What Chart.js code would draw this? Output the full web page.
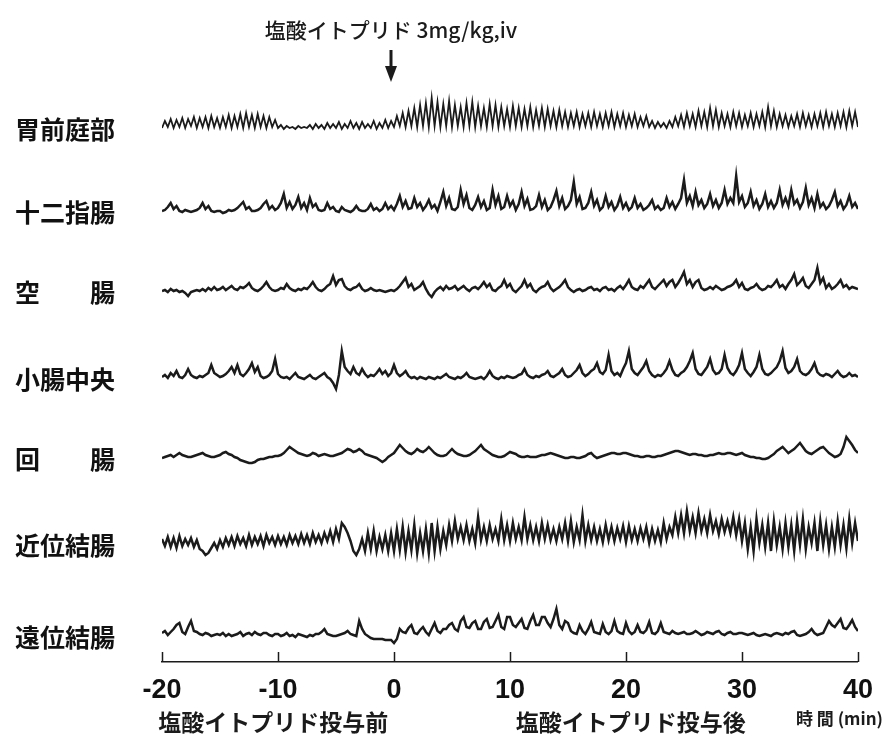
<!DOCTYPE html>
<html lang="ja">
<head>
<meta charset="utf-8">
<title>塩酸イトプリド投与前後の消化管運動</title>
<script src="https://cdn.jsdelivr.net/npm/chart.js@4.4.1/dist/chart.umd.min.js"></script>
<style>
  html, body { margin: 0; padding: 0; background: #fff; }
  #wrap { position: relative; width: 885px; height: 740px; }
</style>
</head>
<body>
<div id="wrap"><canvas id="motility" width="885" height="740"></canvas></div>
<script>
// recording sites, top to bottom
const sites = ['胃前庭部', '十二指腸', '空　　腸', '小腸中央', '回　　腸', '近位結腸', '遠位結腸'];
// resting level of each trace on the y scale
const laneBase = [533, 450, 370, 283, 203, 117, 25];
const timeTicks = [-20, -10, 0, 10, 20, 30, 40];
// one sample every 0.25 min from -20 min (20 samples per row below)
const sampleStart = -20;
const sampleStep = 0.25;

const antrum = [
  1, 8, 2, 10, 1, 9, 2, 11, 1, 10, 3, 12, 1, 11, 2, 12, 1, 13, 2, 11,
  1, 12, 2, 14, 1, 13, 2, 15, 1, 16, 2, 14, 1, 15, 2, 13, 1, 12, 2, 9,
  1, 4, 0, 3, 1, 2, 0, 3, 1, 2, 1, 4, 0, 5, 1, 4, 0, 6, 1, 5,
  1, 7, 0, 5, 1, 8, 1, 6, 0, 7, 1, 5, 1, 8, 0, 6, 1, 9, 1, 8,
  2, 13, 3, 16, 2, 18, 3, 21, 2, 24, 3, 26, 2, 31, 3, 27, 2, 25, 3, 28,
  2, 24, 3, 22, 2, 26, 3, 27, 2, 23, 3, 21, 2, 25, 3, 24, 2, 22, 3, 20,
  2, 23, 3, 21, 2, 20, 3, 22, 2, 19, 3, 21, 2, 20, 3, 18, 2, 19, 3, 17,
  2, 16, 3, 17, 2, 15, 3, 16, 2, 17, 3, 15, 2, 16, 3, 17, 2, 15, 3, 16,
  2, 14, 3, 15, 2, 12, 3, 13, 2, 8, 1, 7, 2, 6, 1, 8, 2, 12, 3, 14,
  2, 16, 3, 15, 2, 18, 3, 17, 2, 21, 3, 19, 2, 16, 3, 15, 2, 17, 3, 16,
  2, 14, 3, 16, 2, 15, 3, 17, 2, 22, 3, 18, 2, 15, 3, 14, 2, 13, 3, 15,
  2, 16, 3, 14, 2, 15, 3, 16, 2, 17, 3, 15, 2, 16, 3, 17, 2, 18, 3, 17, 2
];
const duodenum = [
  1, 2, 5, 9, 3, 6, 1, 0, 2, 1, 0, 1, 2, 4, 9, 3, 6, 1, 0, 1,
  1, -1, 0, 2, 1, 2, 4, 7, 10, 3, 5, 1, 1, 2, 4, 8, 11, 3, 6, 2,
  4, 9, 18, 4, 10, 3, 7, 15, 4, 9, 2, 14, 5, 8, 2, 1, 2, 9, 3, 5,
  1, 0, 5, 2, 1, 0, 2, 6, 2, 1, 1, 3, 8, 2, 4, 1, 3, 9, 3, 6,
  2, 8, 16, 5, 11, 3, 4, 14, 5, 9, 2, 6, 12, 4, 7, 1, 10, 20, 6, 14,
  3, 2, 5, 22, 8, 17, 4, 2, 7, 15, 5, 11, 2, 4, 22, 7, 16, 3, 5, 16,
  6, 11, 2, 8, 20, 6, 13, 2, 3, 6, 17, 5, 12, 2, 5, 12, 21, 6, 14, 3,
  6, 12, 30, 8, 15, 3, 4, 9, 20, 6, 12, 2, 5, 16, 5, 10, 2, 6, 15, 4,
  9, 2, 5, 14, 4, 8, 2, 4, 7, 12, 3, 6, 2, 4, 14, 5, 10, 3, 8, 14,
  32, 9, 16, 6, 20, 7, 12, 4, 8, 18, 6, 12, 4, 9, 22, 8, 14, 9, 36, 10,
  16, 5, 9, 20, 6, 12, 3, 8, 18, 5, 11, 4, 9, 22, 7, 14, 6, 22, 8, 12,
  4, 10, 24, 7, 14, 4, 18, 5, 9, 3, 6, 12, 20, 6, 11, 3, 7, 16, 5, 9, 3
];
const jejunum = [
  1, 2, 0, 3, 1, 2, 0, 1, -1, -4, 0, 1, 2, 1, 3, 1, 4, 2, 5, 2,
  3, 5, 2, 4, 6, 3, 2, 5, 4, 6, 9, 4, 2, 1, 3, 6, 10, 5, 2, 1,
  2, 4, 3, 8, 4, 2, 1, 3, 2, 4, 3, 6, 10, 5, 2, 1, 3, 6, 8, 16,
  7, 12, 13, 6, 3, 2, 4, 5, 8, 3, 1, 2, 4, 2, 1, 2, 1, 0, 1, 2,
  1, 3, 6, 10, 14, 5, 8, 2, 4, 6, 10, 3, -2, -5, 0, 3, 5, 2, 6, 3,
  4, 6, 2, 4, 6, 3, 1, 4, 5, 3, 6, 10, 5, 8, 2, 1, 4, 6, 12, 5,
  8, 2, 0, 3, 6, 12, 5, 8, 2, 0, 3, 5, 6, 10, 4, 1, 3, 5, 8, 12,
  5, 2, 0, 2, 3, 1, 2, 4, 5, 2, 3, 1, 4, 5, 2, 3, 1, 4, 6, 3,
  7, 12, 5, 3, 2, 6, 4, 8, 12, 5, 3, 6, 9, 12, 6, 10, 12, 5, 9, 14,
  20, 8, 12, 5, 10, 12, 4, 2, 3, 5, 3, 6, 4, 2, 3, 5, 6, 8, 12, 5,
  9, 3, 2, 4, 5, 8, 4, 2, 3, 6, 5, 8, 12, 5, 7, 3, 8, 12, 18, 7,
  10, 14, 6, 4, 8, 12, 24, 9, 14, 4, 8, 3, 5, 8, 12, 5, 7, 3, 5, 4, 3
];
const midIntestine = [
  2, 4, 1, 6, 3, 8, 2, 1, 4, 10, 4, 2, 1, 3, 2, 4, 6, 14, 6, 4,
  2, 3, 5, 8, 12, 6, 14, 5, 3, 6, 10, 16, 7, 12, 3, 1, 2, 4, 8, 20,
  5, 2, 1, 2, 0, 3, 6, 2, 1, 0, 2, 4, 1, 0, 2, 4, 6, 2, 0, -4,
  -10, 4, 28, 12, 8, 5, 12, 6, 4, 10, 5, 2, 4, 3, 6, 10, 5, 8, 3, 6,
  14, 6, 3, 5, 8, 3, 1, 2, 0, 2, 1, 0, 2, 1, 0, 2, 1, 3, 5, 2,
  1, 0, 2, 1, 3, 6, 2, 1, 0, 1, 2, 0, 3, 8, 3, 1, 0, 2, 1, 3,
  2, 1, 2, 4, 5, 10, 4, 2, 1, 3, 2, 4, 5, 8, 3, 2, 4, 6, 10, 4,
  2, 3, 6, 9, 14, 6, 3, 5, 8, 10, 16, 7, 5, 9, 24, 8, 4, 6, 3, 10,
  16, 28, 10, 6, 4, 8, 12, 18, 8, 4, 2, 4, 3, 6, 10, 18, 9, 4, 3, 6,
  8, 12, 18, 26, 10, 5, 4, 8, 12, 20, 9, 5, 6, 10, 24, 11, 6, 4, 8, 14,
  26, 10, 6, 3, 7, 12, 24, 10, 5, 4, 6, 9, 12, 18, 28, 11, 6, 8, 12, 20,
  8, 5, 4, 6, 10, 16, 7, 4, 3, 5, 4, 2, 5, 8, 4, 2, 3, 6, 3, 4, 2
];
const ileum = [
  1, 2, 3, 4, 2, 4, 6, 4, 3, 2, 2, 3, 4, 5, 6, 4, 3, 2, 2, 3,
  4, 6, 7, 5, 4, 2, 1, -1, -2, -3, -4, -4, -3, -1, 0, 0, 1, 2, 2, 3,
  3, 4, 6, 9, 12, 10, 8, 6, 5, 4, 3, 4, 6, 5, 3, 4, 5, 4, 3, 3,
  4, 5, 6, 8, 10, 9, 7, 8, 10, 8, 5, 4, 3, 2, 1, -1, -3, -1, 2, 4,
  6, 10, 14, 11, 8, 6, 5, 7, 10, 8, 7, 9, 12, 9, 6, 4, 3, 3, 4, 7,
  10, 7, 5, 4, 3, 3, 4, 6, 8, 11, 14, 10, 8, 6, 4, 3, 2, 2, 3, 5,
  7, 6, 5, 3, 2, 2, 3, 2, 2, 2, 3, 4, 4, 5, 6, 5, 4, 3, 2, 1,
  1, 2, 2, 1, 1, 2, 3, 5, 6, 3, 1, 2, 3, 4, 5, 6, 6, 5, 5, 6,
  6, 5, 4, 3, 3, 2, 2, 3, 3, 2, 2, 3, 3, 4, 5, 6, 7, 8, 8, 7,
  6, 5, 4, 5, 5, 4, 4, 3, 3, 4, 4, 5, 6, 5, 5, 6, 6, 5, 4, 5,
  6, 4, 3, 2, 2, 1, 1, 0, 0, 1, 3, 5, 8, 10, 12, 9, 6, 8, 10, 13,
  16, 12, 8, 6, 5, 7, 9, 11, 12, 9, 6, 4, 2, 3, 5, 12, 22, 18, 14, 9, 6
];
const proximalColon = [
  6, -1, 8, -2, 7, -3, 9, -1, 6, 0, 7, -2, 5, -4, -6, -10, -8, -3, 2, -4,
  5, -2, 7, 0, 8, -1, 9, 1, 7, -1, 10, 0, 8, 1, 9, -1, 10, 2, 8, 0,
  9, 1, 8, 0, 10, 2, 9, 1, 11, 2, 10, 1, 12, 3, 10, 2, 12, 4, 14, 3,
  16, 6, 22, 18, 12, 4, -6, -10, -4, 6, -6, 12, -4, 14, -6, 8, -4, 10, -6, 12,
  -6, 16, -5, 18, -7, 14, -5, 20, -8, 12, -6, 16, -8, 22, -6, 18, -4, 14, 0, 20,
  4, 24, 6, 18, 5, 20, 4, 16, 2, 28, 5, 18, 4, 20, 6, 16, 4, 26, 5, 20,
  4, 22, 6, 18, 5, 28, 6, 20, 5, 18, 4, 22, 6, 20, 5, 16, 4, 18, 6, 22,
  4, 24, 3, 18, 5, 30, 4, 20, 5, 18, 4, 16, 3, 20, 5, 18, 4, 17, 6, 19,
  3, 19, 5, 16, 4, 17, 6, 18, 2, 16, 4, 15, 3, 22, 6, 18, 10, 28, 12, 30,
  12, 34, 14, 28, 12, 32, 14, 26, 12, 30, 14, 24, 11, 26, 13, 24, 12, 28, 10, 26,
  4, 22, -4, 18, -6, 26, 2, 20, -2, 22, -6, 24, 0, 18, -4, 22, -2, 20, -6, 24,
  0, 26, -4, 18, 2, 22, -6, 24, 0, 20, -4, 18, -2, 24, 0, 20, -3, 26, 2, 22, 4
];
const distalColon = [
  4, 6, 2, 5, 8, 12, 14, 5, 3, 10, 16, 6, 5, 3, 2, 4, 3, 1, 2, 3,
  2, 4, 1, 3, 1, 2, 3, 5, 1, 3, 4, 2, 5, 3, 2, 4, 4, 2, 1, 3,
  3, 1, 2, 4, 1, 2, 0, 3, 2, 1, 0, 2, 1, 3, 3, 5, 8, 3, 2, 1,
  1, 2, 3, 4, 6, 3, 2, 1, 16, 8, 3, 1, -1, -2, -2, -2, -2, -3, -3, -3,
  -6, -2, 8, 5, 4, 9, 12, 4, 3, 7, 10, 5, 2, 8, 14, 6, 4, 8, 8, 12,
  14, 8, 6, 16, 20, 10, 9, 14, 16, 8, 8, 15, 18, 9, 10, 16, 22, 10, 8, 20,
  20, 12, 10, 14, 18, 9, 8, 16, 22, 12, 12, 20, 20, 14, 10, 18, 28, 12, 8, 16,
  14, 6, 4, 3, 12, 6, 3, 8, 15, 5, 4, 3, 13, 5, 3, 6, 16, 6, 4, 3,
  14, 6, 3, 5, 12, 5, 4, 7, 15, 4, 3, 6, 14, 5, 4, 3, 6, 4, 3, 4,
  5, 3, 3, 4, 6, 4, 2, 3, 5, 4, 3, 5, 6, 3, 2, 4, 5, 3, 3, 4,
  4, 3, 2, 3, 4, 2, 1, 2, 3, 2, 1, 3, 4, 3, 2, 4, 3, 5, 6, 2,
  1, 2, 3, 5, 8, 4, 2, 3, 4, 10, 16, 12, 10, 14, 18, 9, 8, 12, 17, 10, 6
];
const traces = [antrum, duodenum, jejunum, midIntestine, ileum, proximalColon, distalColon];

const ink = '#1b1b1b';

const datasets = traces.map((values, k) => ({
  label: sites[k],
  data: values.map((v, i) => ({ x: sampleStart + i * sampleStep, y: laneBase[k] + v })),
  borderColor: ink,
  borderWidth: k === 0 ? 1.8 : 2.5,
  borderJoinStyle: 'miter',
  pointRadius: 0,
  tension: 0,
  fill: false
}));

// upward tick marks, dosing arrow and the captions around the traces
const decorations = {
  id: 'decorations',
  afterDraw(chart) {
    const { ctx, chartArea } = chart;
    const xs = chart.scales.x;
    ctx.save();
    ctx.strokeStyle = ink;
    ctx.fillStyle = ink;
    ctx.lineWidth = 1.5;
    timeTicks.forEach(t => {
      const px = Math.round(xs.getPixelForValue(t)) + 0.5;
      ctx.beginPath();
      ctx.moveTo(px, chartArea.bottom);
      ctx.lineTo(px, chartArea.bottom - 10);
      ctx.stroke();
    });

    const doseX = xs.getPixelForValue(0) - 3;
    ctx.font = '500 21px "Noto Sans CJK JP", sans-serif';
    ctx.textAlign = 'center';
    ctx.textBaseline = 'middle';
    ctx.fillText('塩酸イトプリド 3mg/kg,iv', doseX, 30);
    ctx.lineWidth = 3;
    ctx.beginPath();
    ctx.moveTo(doseX, 50);
    ctx.lineTo(doseX, 70);
    ctx.stroke();
    ctx.beginPath();
    ctx.moveTo(doseX - 6, 66);
    ctx.lineTo(doseX + 6, 66);
    ctx.lineTo(doseX, 82);
    ctx.closePath();
    ctx.fill();

    ctx.font = 'bold 23px "Noto Sans CJK JP", sans-serif';
    ctx.fillText('塩酸イトプリド投与前', xs.getPixelForValue(-10.4), 722);
    ctx.fillText('塩酸イトプリド投与後', xs.getPixelForValue(20.4), 722);
    ctx.font = 'bold 17px "Noto Sans CJK JP", sans-serif';
    ctx.textAlign = 'right';
    ctx.fillText('時 間 (min)', 883, 719);
    ctx.restore();
  }
};

new Chart(document.getElementById('motility'), {
  type: 'line',
  data: { datasets },
  plugins: [decorations],
  options: {
    responsive: false,
    animation: false,
    devicePixelRatio: 1,
    layout: { padding: { top: 85, left: 15, right: 15, bottom: 0 } },
    plugins: { legend: { display: false }, tooltip: { enabled: false }, title: { display: false } },
    scales: {
      x: {
        type: 'linear',
        min: -20,
        max: 40,
        afterBuildTicks: scale => { scale.ticks = timeTicks.map(v => ({ value: v })); },
        afterFit: scale => { scale.height = 78; },
        grid: { display: false, drawTicks: false },
        border: { display: true, color: ink, width: 1.5 },
        ticks: {
          padding: 12,
          color: '#111',
          maxRotation: 0,
          font: { family: '"Liberation Sans Narrow", "Liberation Sans", Arial, sans-serif', size: 27, weight: 'bold' }
        }
      },
      y: {
        type: 'linear',
        min: 0,
        max: 577,
        afterBuildTicks: scale => { scale.ticks = laneBase.map(v => ({ value: v })); },
        afterFit: scale => { scale.width = 147; },
        grid: { display: false },
        border: { display: false },
        ticks: {
          crossAlign: 'far',
          color: '#111',
          callback: (value, index) => sites[index],
          font: { family: '"Noto Sans CJK JP", sans-serif', size: 25, weight: 'bold' }
        }
      }
    }
  }
});
</script>
</body>
</html>
